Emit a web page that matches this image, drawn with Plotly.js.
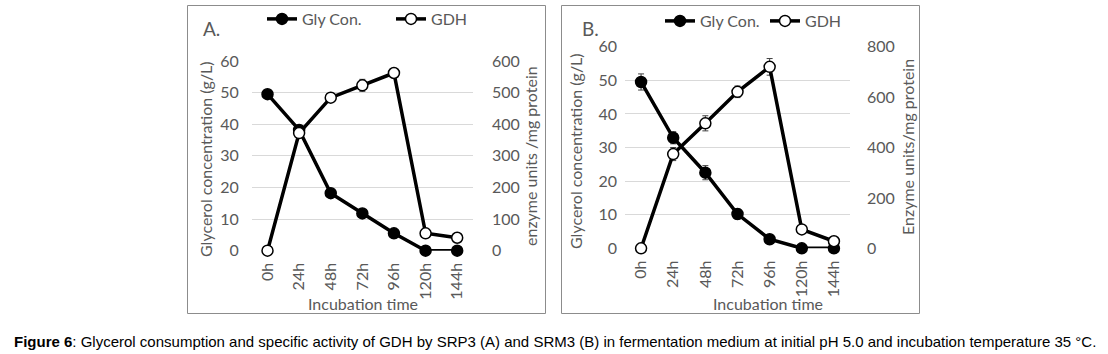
<!DOCTYPE html>
<html><head><meta charset="utf-8">
<script src="https://cdn.plot.ly/plotly-3.0.1.min.js"></script>
<style>html,body{margin:0;padding:0;background:#fff;}#chart{width:1108px;height:354px;}</style>
</head><body><div id="chart"></div>
<script>
const categories = ['0h','24h','48h','72h','96h','120h','144h'];
const glyA = [49.5, 38.2, 18.2, 11.8, 5.5, 0, 0];
const glyAErr = [0.5, 1, 1, 0.6, 0.5, 0, 0];
const gdhA = [0, 372, 484, 523, 562, 55, 41];
const gdhAErr = [0, 8, 9, 19, 6, 0, 0];
const glyB = [49.5, 32.9, 22.5, 10.2, 2.7, 0, 0];
const glyBErr = [2.4, 1.8, 2.1, 1.5, 0.5, 0, 0];
const gdhB = [0, 374, 496, 621, 720, 75, 28];
const gdhBErr = [0, 26, 30, 23, 33, 0, 0];
const seriesNames = ['Gly Con.', 'GDH'];
const caption = '<b>Figure 6</b>: Glycerol consumption and specific activity of GDH by SRP3 (A) and SRM3 (B) in fermentation medium at initial pH 5.0 and incubation temperature 35 °C.';

const W = 1108, H = 354;
const px = v => v / W, py = v => 1 - v / H;
const gray = '#595959';
const F = 'Lato, "Open Sans", sans-serif';

function tr(x, y, err, filled, xa, ya, name, leg) {
  return {
    type: 'scatter', mode: 'lines+markers', x: x, y: y, xaxis: xa, yaxis: ya, name: name,
    legend: leg, showlegend: true, cliponaxis: false,
    line: {color: '#000', width: 3.5},
    marker: {size: 11, symbol: 'circle', color: filled ? '#000' : '#fff', line: {color: '#000', width: 1.5}},
    error_y: {type: 'data', array: err, visible: true, color: '#404040', thickness: 1, width: 3}
  };
}

const data = [
  tr(categories, glyA, glyAErr, true, 'x', 'y', seriesNames[0], 'legend'),
  tr(categories, gdhA, gdhAErr, false, 'x', 'y2', seriesNames[1], 'legend'),
  tr(categories, glyB, glyBErr, true, 'x2', 'y3', seriesNames[0], 'legend2'),
  tr(categories, gdhB, gdhBErr, false, 'x2', 'y4', seriesNames[1], 'legend2')
];

const tickFont = {family: F, size: 16, color: gray};
const xCommon = {type: 'category', range: [-0.5, 6.5], showgrid: false, zeroline: false, showline: false,
  tickangle: -90, tickfont: tickFont, ticks: '', ticklabelstandoff: 8, fixedrange: true};
const yCommon = {showgrid: true, gridcolor: '#d9d9d9', gridwidth: 1, zeroline: false, showline: false,
  tickfont: tickFont, ticks: '', fixedrange: true};

function ann(text, x, y, angle, size, extra) {
  return Object.assign({text: text, xref: 'paper', yref: 'paper', x: px(x), y: py(y), xanchor: 'center', yanchor: 'middle',
    textangle: angle, showarrow: false, font: {family: F, size: size, color: gray}}, extra || {});
}

const layout = {
  width: W, height: H, margin: {l: 0, r: 0, t: 0, b: 0}, paper_bgcolor: '#fff', plot_bgcolor: 'rgba(0,0,0,0)',
  font: {family: F, color: gray},
  xaxis: Object.assign({}, xCommon, {domain: [px(251.7), px(473)], anchor: 'y'}),
  yaxis: Object.assign({}, yCommon, {domain: [py(250.7), py(61)], range: [0, 60], dtick: 10, anchor: 'x', ticklabelstandoff: 12}),
  yaxis2: Object.assign({}, yCommon, {overlaying: 'y', side: 'right', range: [0, 600], dtick: 100, showgrid: false, anchor: 'x', ticklabelstandoff: 18}),
  xaxis2: Object.assign({}, xCommon, {domain: [px(625), px(850)], anchor: 'y3'}),
  yaxis3: Object.assign({}, yCommon, {domain: [py(248.3), py(46.7)], range: [0, 60], dtick: 10, anchor: 'x2', ticklabelstandoff: 7}),
  yaxis4: Object.assign({}, yCommon, {overlaying: 'y3', side: 'right', range: [0, 800], dtick: 200, showgrid: false, anchor: 'x2', ticklabelstandoff: 16}),
  legend: {x: px(262), y: py(2), xanchor: 'left', yanchor: 'top', orientation: 'h', itemwidth: 30,
    entrywidth: 84, entrywidthmode: 'pixels', font: {family: F, size: 16, color: gray}, bgcolor: 'rgba(0,0,0,0)', tracegroupgap: 0},
  legend2: {x: px(660), y: py(4), xanchor: 'left', yanchor: 'top', orientation: 'h', itemwidth: 30,
    entrywidth: 60, entrywidthmode: 'pixels', font: {family: F, size: 16, color: gray}, bgcolor: 'rgba(0,0,0,0)', tracegroupgap: 0},
  shapes: [
    {type: 'rect', xref: 'paper', yref: 'paper', x0: px(187.5), x1: px(545.5), y0: py(5.5), y1: py(313.5), line: {color: '#8c8c8c', width: 1}},
    {type: 'rect', xref: 'paper', yref: 'paper', x0: px(561.5), x1: px(919.5), y0: py(5.5), y1: py(313.5), line: {color: '#8c8c8c', width: 1}}
  ],
  annotations: [
    ann('A.', 201, 29, 0, 19, {xanchor: 'left'}),
    ann('B.', 580, 29, 0, 19, {xanchor: 'left'}),
    ann('Glycerol concentration (g/L)', 205, 159, -90, 16),
    ann('enzyme units /mg protein', 531, 156, -90, 16),
    ann('Incubation time', 363, 303, 0, 16),
    ann('Glycerol concentration (g/L)', 575, 151, -90, 16),
    ann('Enzyme units/mg protein', 907, 147, -90, 16),
    ann('Incubation time', 768, 303, 0, 16),
    {text: caption, xref: 'paper', yref: 'paper', x: px(12), y: py(341), xanchor: 'left', yanchor: 'middle', showarrow: false,
      font: {family: '"Liberation Sans", Arial, sans-serif', size: 15, color: '#000'}}
  ]
};

Plotly.newPlot('chart', data, layout, {displayModeBar: false, staticPlot: true});
</script></body></html>
